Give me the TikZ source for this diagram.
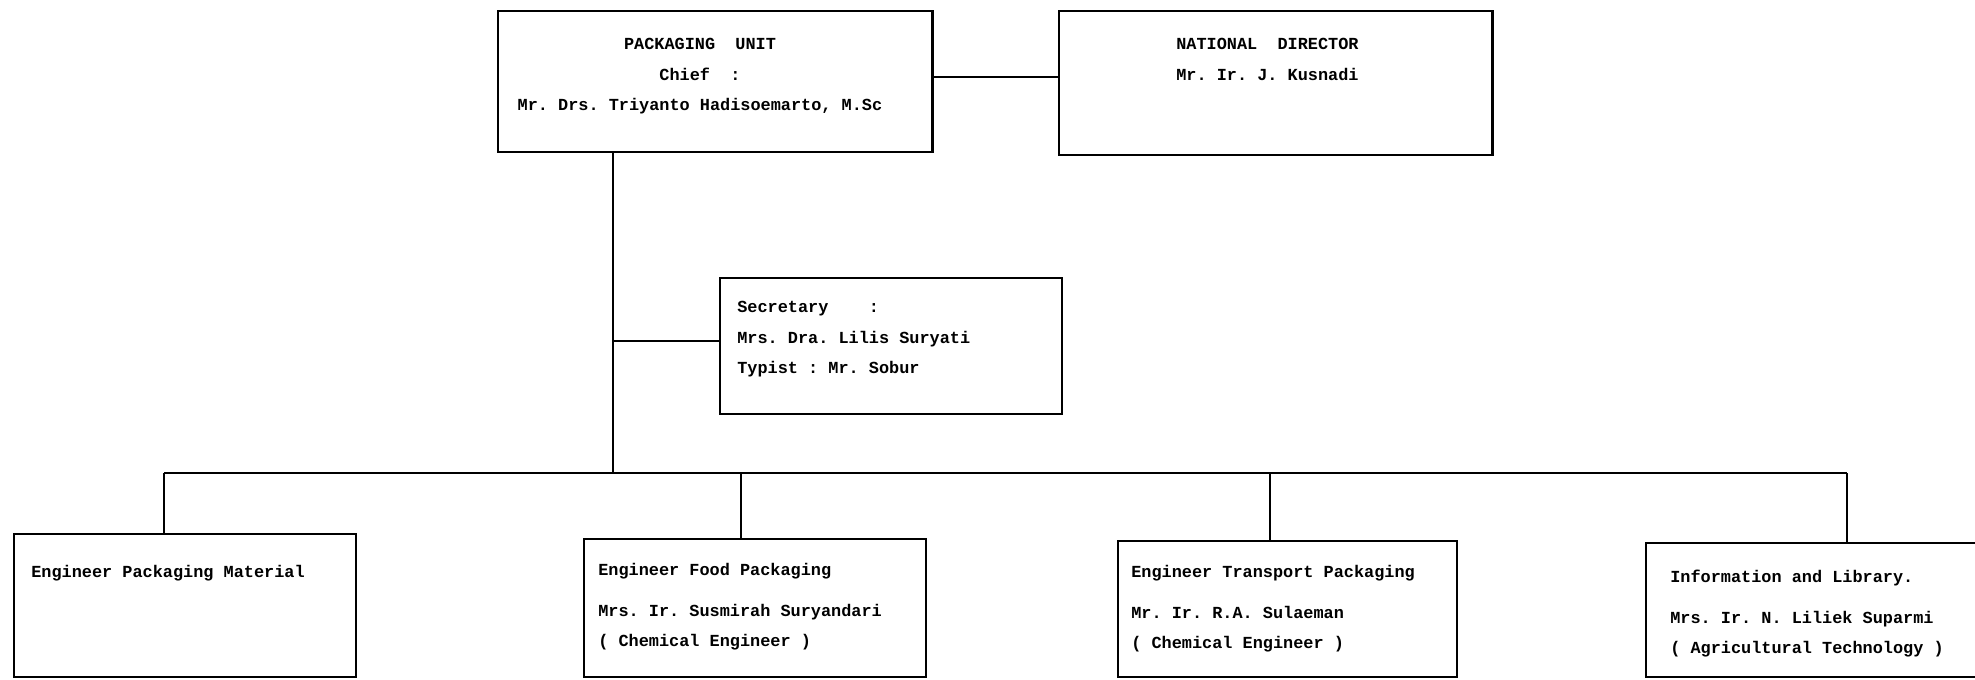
\documentclass[tikz,border=0pt]{standalone}
\usepackage{fontspec}
\setmonofont{Liberation Mono}
\begin{document}
\begin{tikzpicture}[x=0.025cm,y=-0.025cm,
  box/.style={draw,line width=1.7pt,inner sep=0pt,anchor=north west},
  txt/.style={font=\ttfamily\bfseries\fontsize{12}{21.8}\selectfont,inner sep=0pt,align=left,anchor=north west},
  link/.style={line width=1.7pt}]
\useasboundingbox (0,0) rectangle (1975,679);
\clip (0,0) rectangle (1975,679);
% boxes
\node[box,minimum width=10.85cm,minimum height=3.525cm] (pu) at (497,10) {};
\node[box,minimum width=10.825cm,minimum height=3.6cm] (nd) at (1058,10) {};
\node[box,minimum width=8.55cm,minimum height=3.4cm] (sec) at (719,277) {};
\node[box,minimum width=8.55cm,minimum height=3.575cm] (b1) at (13,533) {};
\node[box,minimum width=8.55cm,minimum height=3.45cm] (b2) at (583,538) {};
\node[box,minimum width=8.475cm,minimum height=3.4cm] (b3) at (1117,540) {};
\node[box,minimum width=9cm,minimum height=3.35cm] (b4) at (1645,542) {};
% texts
\node[txt,align=center,anchor=north] (putext) at (700,38)
  {PACKAGING\ \ UNIT\\Chief\ \ :\\Mr. Drs. Triyanto Hadisoemarto, M.Sc};
\node[txt] (ndtext) at (1176,38) {NATIONAL\ \ DIRECTOR\\Mr. Ir. J. Kusnadi};
\node[txt] (sectext) at (737,301)
  {Secretary\ \ \ \ :\\Mrs. Dra. Lilis Suryati\\Typist : Mr. Sobur};
\node[txt] (b1text) at (31,565) {Engineer Packaging Material};
\node[txt] (b2text) at (598,563)
  {Engineer Food Packaging\\[7pt]Mrs. Ir. Susmirah Suryandari\\( Chemical Engineer )};
\node[txt] (b3text) at (1131,565)
  {Engineer Transport Packaging\\[7pt]Mr. Ir. R.A. Sulaeman\\( Chemical Engineer )};
\node[txt] (b4text) at (1670,570)
  {Information and Library.\\[7pt]Mrs. Ir. N. Liliek Suparmi\\( Agricultural Technology )};
% lines
\coordinate (trunk) at (613,473);
\coordinate (d1) at (164,473);
\coordinate (d2) at (741,473);
\coordinate (d3) at (1270,473);
\coordinate (d4) at (1847,473);
\draw[link] ([yshift=3.5pt]pu.east) -- ([yshift=3.5pt]pu.east -| nd.west);
\draw[link] (trunk |- pu.south) -- (trunk);
\draw[link] ([yshift=3.5pt]trunk |- sec.west) -- ([yshift=3.5pt]sec.west);
\draw[link] (d1) -- (d4);
\foreach \i in {1,...,4}
  \draw[link] (d\i) -- (d\i |- b\i.north);
\end{tikzpicture}
\end{document}
